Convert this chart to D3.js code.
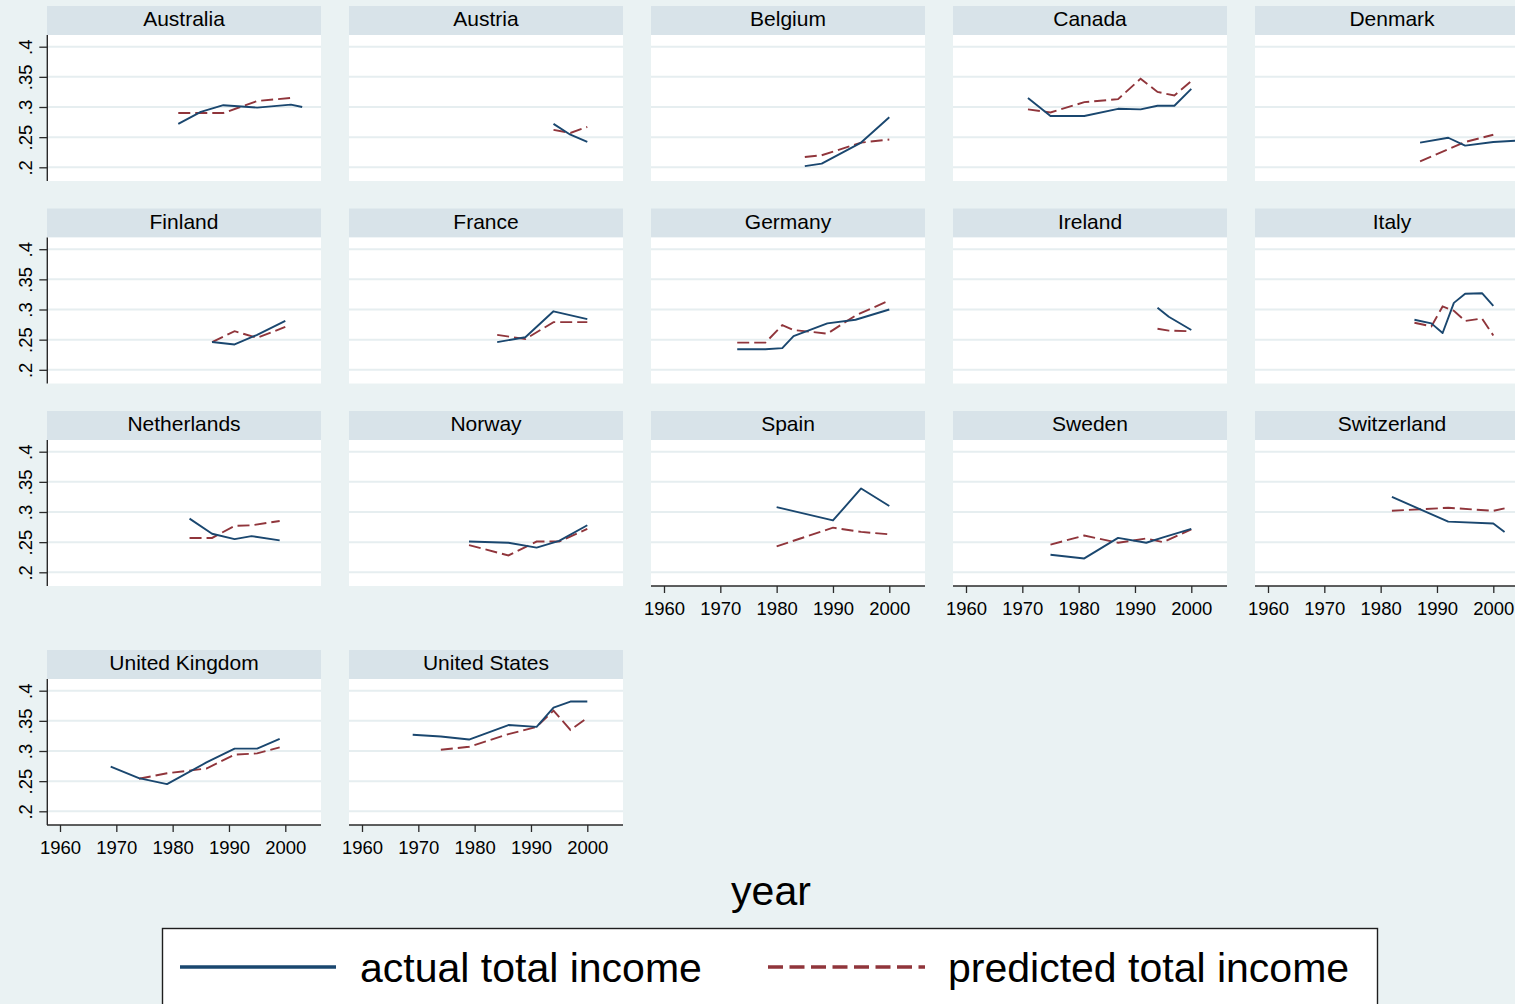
<!DOCTYPE html>
<html>
<head>
<meta charset="utf-8">
<script src="https://cdn.jsdelivr.net/npm/d3@7/dist/d3.min.js"></script>
<style>
  html, body { margin: 0; padding: 0; background: #eaf2f3; }
  svg { display: block; }
  text { font-family: "Liberation Sans", Arial, Helvetica, sans-serif; fill: #000; }
</style>
</head>
<body>
<svg id="chart" width="1515" height="1004"></svg>
<script>
// Gini of total income by country: actual vs. predicted, by year
const countries = ["Australia", "Austria", "Belgium", "Canada", "Denmark",
                   "Finland", "France", "Germany", "Ireland", "Italy",
                   "Netherlands", "Norway", "Spain", "Sweden", "Switzerland",
                   "United Kingdom", "United States"];

const years = [
  [1981, 1985, 1989, 1995, 2001, 2003],
  [1994, 1997, 2000],
  [1985, 1988, 1995, 2000],
  [1971, 1975, 1981, 1987, 1991, 1994, 1997, 2000],
  [1987, 1992, 1995, 2000, 2004],
  [1987, 1991, 1995, 2000],
  [1984, 1989, 1994, 2000],
  [1973, 1978, 1981, 1983, 1989, 1994, 2000],
  [1994, 1996, 2000],
  [1986, 1989, 1991, 1993, 1995, 1998, 2000],
  [1983, 1987, 1991, 1994, 1999],
  [1979, 1986, 1991, 1995, 2000],
  [1980, 1990, 1995, 2000],
  [1975, 1981, 1987, 1992, 1995, 2000],
  [1982, 1992, 2000, 2002],
  [1969, 1974, 1979, 1986, 1991, 1995, 1999],
  [1969, 1974, 1979, 1986, 1991, 1994, 1997, 2000]
];

const actual = [
  [0.272, 0.292, 0.303, 0.299, 0.304, 0.300],
  [0.272, 0.254, 0.242],
  [0.202, 0.206, 0.241, 0.283],
  [0.315, 0.285, 0.285, 0.297, 0.296, 0.302, 0.302, 0.330],
  [0.241, 0.249, 0.236, 0.242, 0.244],
  [0.246, 0.242, 0.258, 0.281],
  [0.246, 0.254, 0.297, 0.284],
  [0.234, 0.234, 0.236, 0.256, 0.277, 0.283, 0.300],
  [0.303, 0.288, 0.266],
  [0.283, 0.277, 0.261, 0.311, 0.326, 0.327, 0.306],
  [0.289, 0.264, 0.255, 0.260, 0.253],
  [0.251, 0.249, 0.241, 0.252, 0.278],
  [0.308, 0.286, 0.339, 0.310],
  [0.229, 0.223, 0.257, 0.249, 0.258, 0.272],
  [0.325, 0.284, 0.281, 0.267],
  [0.274, 0.255, 0.245, 0.281, 0.304, 0.304, 0.320],
  [0.327, 0.324, 0.319, 0.343, 0.340, 0.372, 0.382, 0.382]
];

const predicted = [
  [0.290, 0.290, 0.290, 0.310, 0.315, null],
  [0.262, 0.257, 0.267],
  [0.217, 0.220, 0.241, 0.246],
  [0.296, 0.291, 0.308, 0.313, 0.347, 0.325, 0.319, 0.343],
  [0.210, 0.230, 0.242, 0.254, null],
  [0.246, 0.264, 0.253, 0.271],
  [0.258, 0.251, 0.279, 0.279],
  [0.245, 0.245, 0.274, 0.266, 0.260, 0.290, 0.315],
  [0.268, 0.265, 0.264],
  [0.278, 0.272, 0.305, 0.298, 0.281, 0.285, 0.257],
  [0.257, 0.257, 0.277, 0.278, 0.285],
  [0.245, 0.228, 0.251, 0.251, 0.272],
  [0.243, 0.274, 0.267, 0.263],
  [0.246, 0.261, 0.249, 0.256, 0.250, 0.271],
  [0.302, 0.307, 0.302, 0.306],
  [null, 0.254, 0.263, 0.271, 0.294, 0.296, 0.306],
  [null, 0.302, 0.307, 0.328, 0.340, 0.367, 0.335, 0.355]
];

const yTicks = [0.2, 0.25, 0.3, 0.35, 0.4];
const yTickLabels = [".2", ".25", ".3", ".35", ".4"];
const xTicks = [1960, 1970, 1980, 1990, 2000];
const seriesNames = ["actual total income", "predicted total income"];
const xTitle = "year";

// layout
const NCOL = 5;
const COL_X0 = 47, COL_STEP = 302, PANEL_W = 274;
const STRIP_H = 29, PLOT_H = 146;
const ROW_TOPS = [6, 208.5, 411, 650];
const COLOR_ACTUAL = "#1a476f", COLOR_PRED = "#90353b";
const BG = "#eaf2f3", STRIP = "#d8e3e9", GRID = "#e6eef0", AXIS = "#2a2a2a";

const svg = d3.select("#chart");
svg.append("rect").attr("width", 1515).attr("height", 1004).attr("fill", BG);

const n = countries.length;

countries.forEach((name, i) => {
  const col = i % NCOL, row = Math.floor(i / NCOL);
  const left = COL_X0 + col * COL_STEP;
  const top = ROW_TOPS[row];
  const plotTop = top + STRIP_H;
  const plotBottom = plotTop + PLOT_H;

  const x = d3.scaleLinear().domain([1960, 2000]).range([left + 13, left + 238.3]);
  const y = d3.scaleLinear().domain([0.2, 0.4]).range([plotTop + 132.3, plotTop + 11.7]);

  const g = svg.append("g");

  // strip with title
  g.append("rect").attr("x", left).attr("y", top).attr("width", PANEL_W).attr("height", STRIP_H)
    .attr("fill", STRIP);
  g.append("text").attr("x", left + PANEL_W / 2).attr("y", top + 20.2)
    .attr("text-anchor", "middle").attr("font-size", 21).text(name);

  // plot region
  g.append("rect").attr("x", left).attr("y", plotTop).attr("width", PANEL_W).attr("height", PLOT_H)
    .attr("fill", "#fff");

  // horizontal gridlines
  g.selectAll(".grid").data(yTicks).join("line")
    .attr("x1", left).attr("x2", left + PANEL_W)
    .attr("y1", d => y(d)).attr("y2", d => y(d))
    .attr("stroke", GRID).attr("stroke-width", 2);

  // series
  const pts = years[i].map((yr, k) => ({ yr, a: actual[i][k], p: predicted[i][k] }));
  const lineA = d3.line().defined(d => d.a != null).x(d => x(d.yr)).y(d => y(d.a));
  const lineP = d3.line().defined(d => d.p != null).x(d => x(d.yr)).y(d => y(d.p));

  g.append("path").datum(pts).attr("d", lineP).attr("fill", "none")
    .attr("stroke", COLOR_PRED).attr("stroke-width", 1.9).attr("stroke-dasharray", "12,5");
  g.append("path").datum(pts).attr("d", lineA).attr("fill", "none")
    .attr("stroke", COLOR_ACTUAL).attr("stroke-width", 1.9).attr("stroke-linejoin", "round");

  // y axis on the first column
  if (col === 0) {
    const ax = g.append("g").attr("transform", `translate(${left + 0.3},0)`)
      .call(d3.axisLeft(y).tickValues(yTicks).tickSize(8).tickSizeOuter(0)
        .tickFormat((d, k) => yTickLabels[k]));
    ax.select(".domain").remove();
    ax.selectAll(".tick line").attr("stroke", AXIS).attr("stroke-width", 1.3);
    ax.selectAll(".tick text")
      .attr("x", null).attr("dy", null).attr("y", null)
      .attr("transform", "translate(-15.6,0) rotate(-90)")
      .attr("text-anchor", "middle")
      .attr("font-size", 18.5).attr("font-family", null).attr("fill", "#000");
    g.append("line").attr("x1", left + 0.3).attr("x2", left + 0.3)
      .attr("y1", plotTop).attr("y2", plotBottom)
      .attr("stroke", AXIS).attr("stroke-width", 1.4);
  }

  // x axis on the lowest panel of each column
  if (i + NCOL >= n) {
    const ax = g.append("g").attr("transform", `translate(0,${plotBottom})`)
      .call(d3.axisBottom(x).tickValues(xTicks).tickSize(7).tickSizeOuter(0).tickFormat(d3.format("d")));
    ax.select(".domain").remove();
    ax.selectAll(".tick line").attr("stroke", AXIS).attr("stroke-width", 1.3);
    ax.selectAll(".tick text").attr("y", 28.6).attr("dy", null)
      .attr("font-size", 18.5).attr("font-family", null).attr("fill", "#000");
    g.append("line").attr("x1", left).attr("x2", left + PANEL_W)
      .attr("y1", plotBottom).attr("y2", plotBottom)
      .attr("stroke", AXIS).attr("stroke-width", 1.4);
  }
});

// x axis title
svg.append("text").attr("x", 771).attr("y", 905).attr("text-anchor", "middle")
  .attr("font-size", 41).text(xTitle);

// legend
const lg = svg.append("g");
lg.append("rect").attr("x", 162.5).attr("y", 928.5).attr("width", 1215).attr("height", 120)
  .attr("fill", "#fff").attr("stroke", "#1e1e1e").attr("stroke-width", 1.4);
lg.append("line").attr("x1", 180).attr("x2", 336).attr("y1", 967).attr("y2", 967)
  .attr("stroke", COLOR_ACTUAL).attr("stroke-width", 3.6);
lg.append("text").attr("x", 360).attr("y", 982).attr("font-size", 41).text(seriesNames[0]);
lg.append("line").attr("x1", 768).attr("x2", 925).attr("y1", 967).attr("y2", 967)
  .attr("stroke", COLOR_PRED).attr("stroke-width", 3.6).attr("stroke-dasharray", "15,6.5");
lg.append("text").attr("x", 948).attr("y", 982).attr("font-size", 41).text(seriesNames[1]);
</script>
</body>
</html>
